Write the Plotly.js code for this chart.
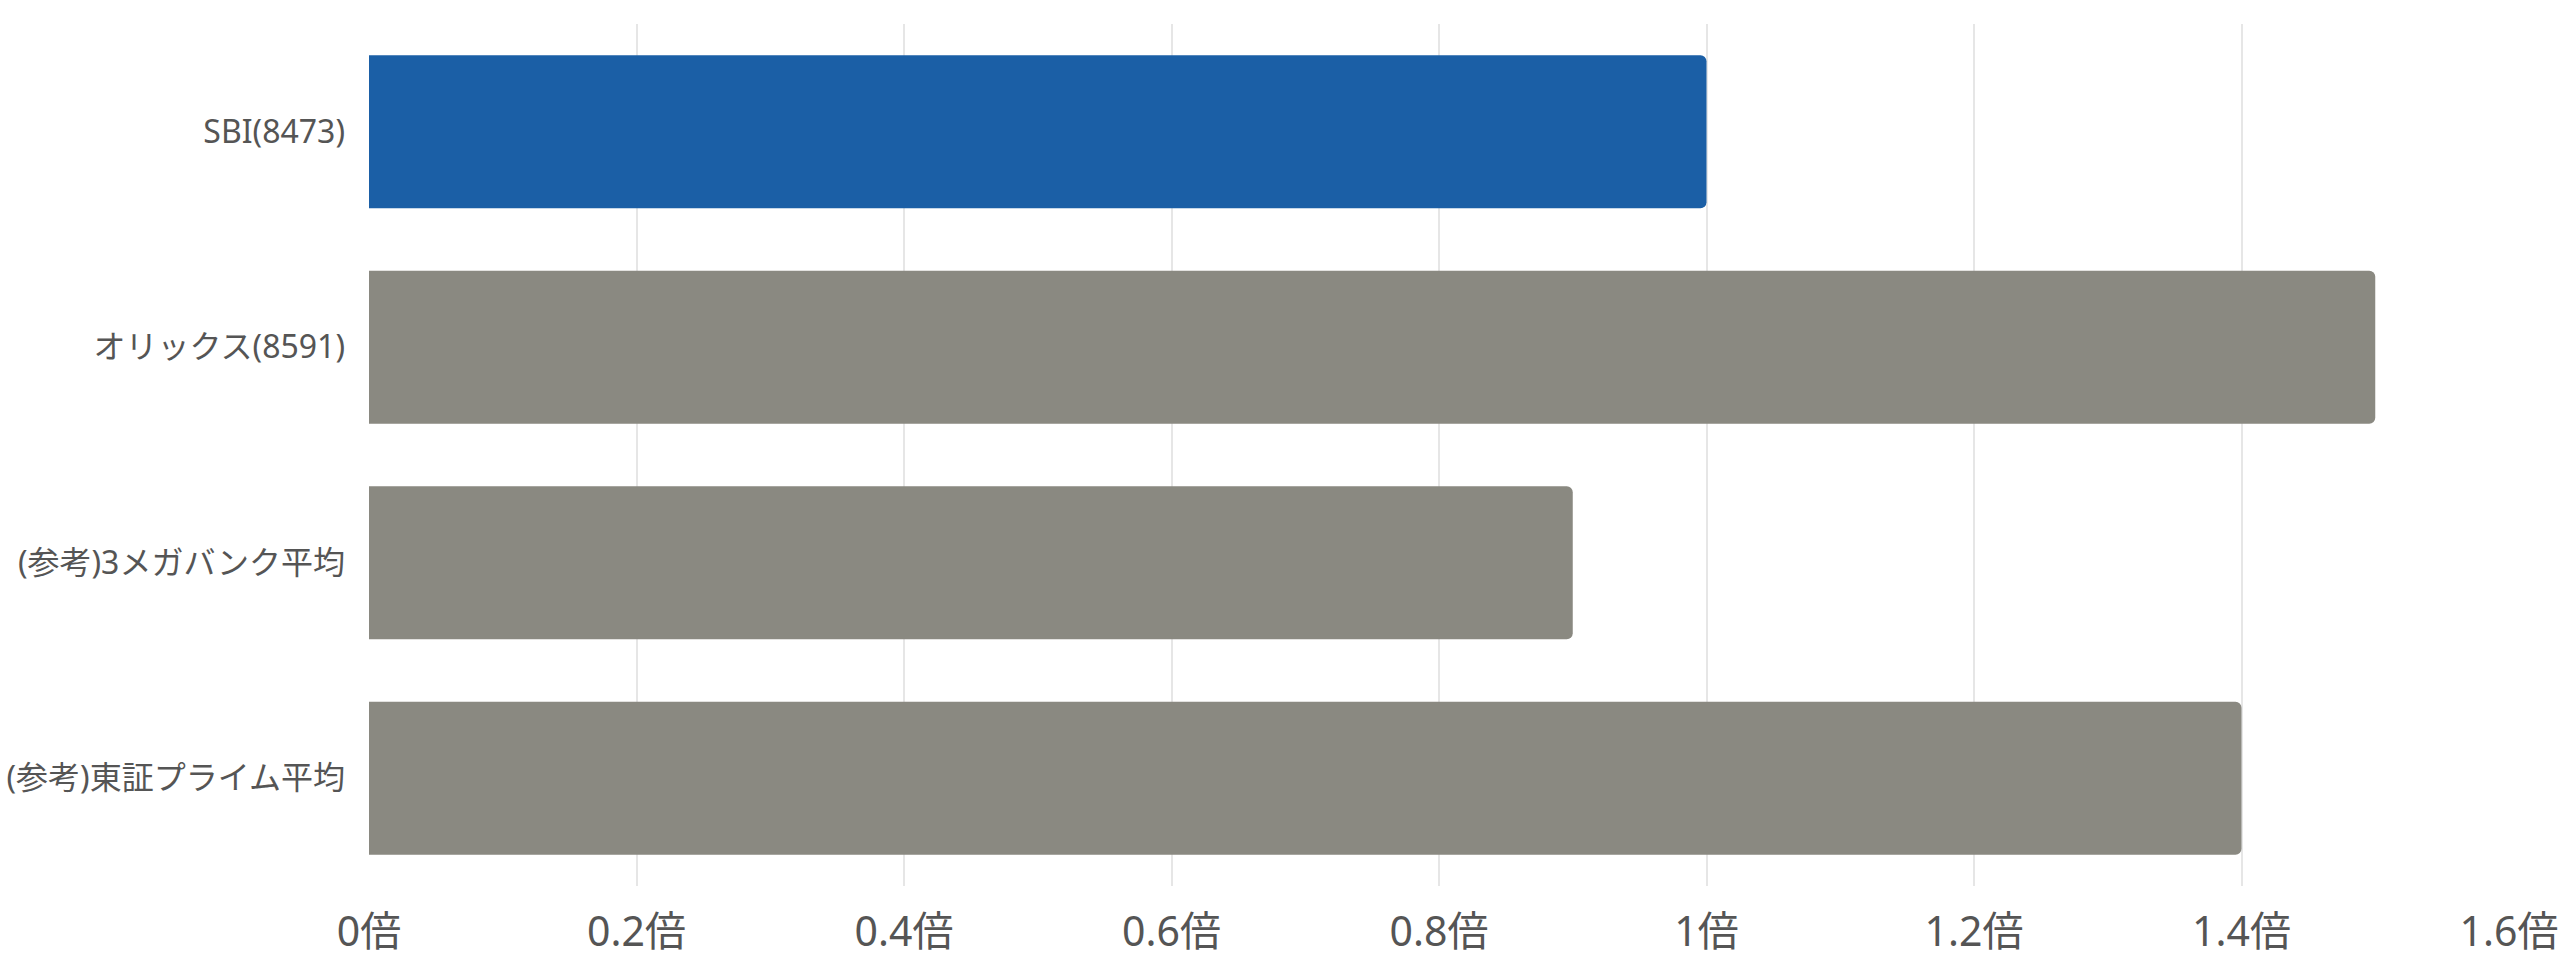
<!DOCTYPE html>
<html>
<head>
<meta charset="utf-8">
<script src="https://cdn.plot.ly/plotly-3.0.1.min.js"></script>
<style>
html,body{margin:0;padding:0;background:#fff;}
#chart{width:2560px;height:960px;}
</style>
</head>
<body>
<div id="chart"></div>
<script>
const categories = ["SBI(8473)", "オリックス(8591)", "(参考)3メガバンク平均", "(参考)東証プライム平均"];
const pbrValues = [1.0, 1.5, 0.9, 1.4];
const barColors = ["#1b5fa6", "#8a8981", "#8a8981", "#8a8981"];
const tickValues = [0, 0.2, 0.4, 0.6, 0.8, 1, 1.2, 1.4, 1.6];
const tickSuffix = "倍";

const fontFamily = "'Noto Sans', 'Noto Sans CJK JP', sans-serif";

const trace = {
  type: "bar",
  orientation: "h",
  y: categories,
  x: pbrValues,
  marker: { color: barColors, line: { width: 0 } },
  hoverinfo: "x+y"
};

const layout = {
  width: 2560,
  height: 960,
  margin: { l: 369, r: 51, t: 24, b: 74 },
  paper_bgcolor: "#ffffff",
  plot_bgcolor: "#ffffff",
  bargap: 0.29,
  barcornerradius: 6,
  showlegend: false,
  font: { family: fontFamily, color: "#555555" },
  xaxis: {
    range: [0, 1.6],
    tickmode: "array",
    tickvals: tickValues,
    ticktext: tickValues.map(v => v + tickSuffix),
    showgrid: true,
    gridcolor: "#e6e6e6",
    gridwidth: 2,
    zeroline: false,
    showline: false,
    ticks: "",
    ticklabelstandoff: 18,
    tickfont: { size: 41, color: "#555555", family: fontFamily }
  },
  yaxis: {
    autorange: "reversed",
    showgrid: false,
    zeroline: false,
    showline: false,
    ticks: "",
    ticklabelstandoff: 23,
    tickfont: { size: 32, color: "#555555", family: fontFamily }
  }
};

Plotly.newPlot("chart", [trace], layout, { displayModeBar: false, staticPlot: true });
</script>
</body>
</html>
